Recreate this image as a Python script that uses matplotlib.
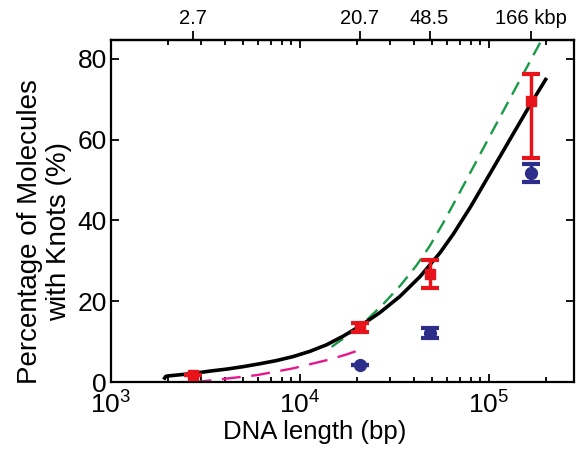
import matplotlib
matplotlib.use("Agg")
import matplotlib.pyplot as plt
from matplotlib.ticker import LogLocator, NullLocator, FixedLocator, FixedFormatter, NullFormatter

plt.rcParams['font.family'] = ['Liberation Sans', 'DejaVu Sans']
plt.rcParams['mathtext.fontset'] = 'custom'
plt.rcParams['mathtext.rm'] = 'Liberation Sans'
plt.rcParams['mathtext.it'] = 'Liberation Sans:italic'

# Red experimental points (bp, %)
red_x = [2700, 20700, 48500, 166000]
red_y = [1.7, 13.5, 26.8, 69.5]
red_err_lo = [0.0, 1.2, 3.5, 14.0]
red_err_hi = [0.0, 1.2, 3.5, 6.7]

# Blue points
blue_x = [20700, 48500, 166000]
blue_y = [4.3, 12.1, 51.8]
blue_err = [0.0, 1.3, 2.2]

# Black fit curve
black_x = [1900, 1950, 2000, 2700, 3340, 4100, 5000, 6100, 7500, 9200, 11300, 13800,
           17000, 20700, 26500, 33800, 43200, 55100, 64700, 80000, 101000, 130000,
           166000, 202000]
black_y = [0.6, 1.4, 1.5, 2.1, 2.7, 3.2, 3.8, 4.5, 5.3, 6.3, 7.6, 9.2,
           11.4, 13.8, 17.2, 21.2, 26.1, 32.0, 36.6, 43.4, 51.5, 60.3,
           68.8, 75.3]

# Green dashed curve
green_x = [14700, 17000, 20700, 22500, 27600, 34000, 41400, 48500, 57300, 72800,
           100000, 146000, 190000]
green_y = [8.7, 10.8, 13.9, 15.3, 19.3, 23.9, 28.9, 33.6, 39.4, 48.4,
           60.5, 74.8, 84.7]

# Pink dashed curve
pink_x = [2700, 2960, 4000, 5900, 7500, 9230, 11300, 13840, 17300, 20300]
pink_y = [0.0, 0.1, 0.8, 1.7, 2.6, 3.4, 4.4, 5.4, 6.7, 7.8]

top_ticks = [2700, 20700, 48500, 166000]
top_labels = ["2.7", "20.7", "48.5", "166 kbp"]

RED = "#e8141c"
BLUE = "#2d2d8a"
GREEN = "#1a9a48"
PINK = "#e8168c"

fig = plt.figure(figsize=(5.77, 4.57), dpi=100)
ax = fig.add_axes([0.1924, 0.1641, 0.8024, 0.7484])

ax.plot(black_x, black_y, color="black", lw=2.6, zorder=3, solid_capstyle="butt")
ax.plot(green_x, green_y, color=GREEN, lw=1.7, dashes=(6, 3.5), zorder=2)
ax.plot(pink_x, pink_y, color=PINK, lw=1.7, dashes=(8, 4.5), zorder=2)

ax.errorbar(red_x, red_y, yerr=[red_err_lo, red_err_hi], fmt="s", color=RED,
            ms=7.5, elinewidth=2.5, capsize=6.5, capthick=3, zorder=5)
ax.errorbar(blue_x, blue_y, yerr=blue_err, fmt="o", color=BLUE,
            ms=8.5, elinewidth=2.5, capsize=6.5, capthick=3, zorder=4)

ax.set_xscale("log")
ax.set_xlim(1000, 2.82e5)
ax.set_ylim(0, 84.7)
ax.set_yticks([0, 20, 40, 60, 80])
ax.xaxis.set_major_locator(LogLocator(base=10, numticks=10))
ax.xaxis.set_minor_locator(LogLocator(base=10, subs=range(2, 10), numticks=20))
ax.xaxis.set_minor_formatter(NullFormatter())

for s in ax.spines.values():
    s.set_linewidth(1.6)

ax.tick_params(which="both", direction="in", top=True, right=True, width=1.3)
ax.tick_params(which="major", length=5.5, labelsize=19)
ax.tick_params(which="minor", length=3.5)
ax.tick_params(axis="x", which="major", pad=6.5)
ax.tick_params(axis="y", which="major", pad=3)

ax.set_xlabel("DNA length (bp)", fontsize=18.5)
ax.xaxis.set_label_coords(0.44, -0.11)
ax.set_ylabel("Percentage of Molecules\nwith Knots (%)", fontsize=20,
              linespacing=1.15)
ax.yaxis.set_label_coords(-0.085, 0.44)

sec = ax.secondary_xaxis("top")
sec.xaxis.set_major_locator(FixedLocator(top_ticks))
sec.xaxis.set_major_formatter(FixedFormatter(top_labels))
sec.xaxis.set_minor_locator(NullLocator())
sec.tick_params(which="major", direction="out", length=6.5, width=1.3, labelsize=14.5, pad=2)
sec.spines["top"].set_linewidth(1.6)

fig.savefig("out.png", dpi=100)
